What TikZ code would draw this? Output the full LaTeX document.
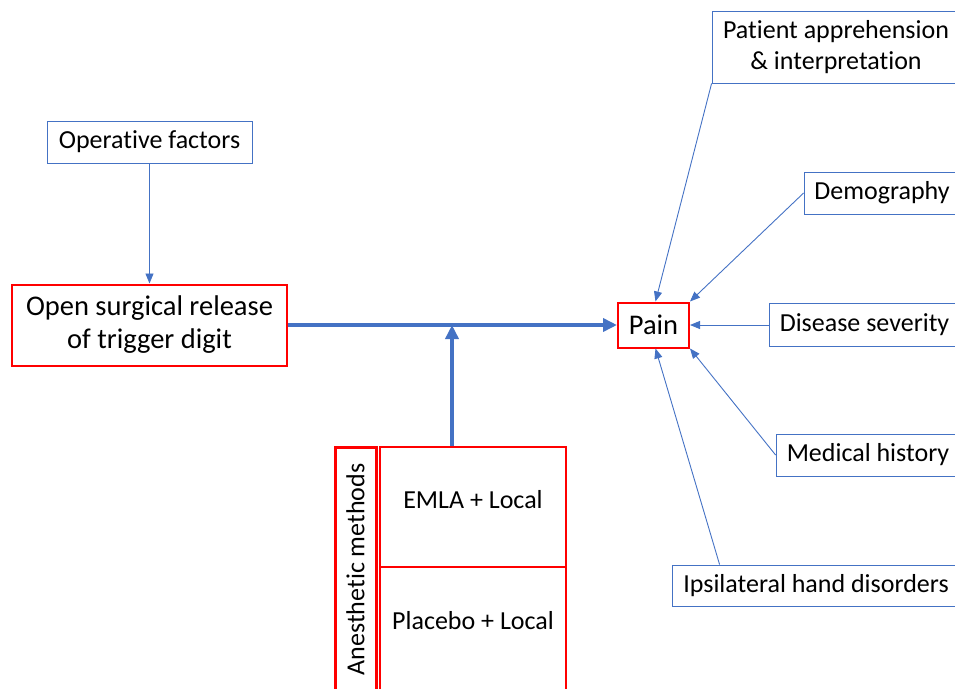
\documentclass[tikz,border=0pt]{standalone}
\usepackage{fontspec}
\setmainfont{Carlito}[Ligatures=NoCommon]
\usetikzlibrary{arrows.meta}
\definecolor{linkblue}{HTML}{4472C4}
\definecolor{boxred}{HTML}{FF0000}

\begin{document}
\begin{tikzpicture}[x=1pt, y=-1pt,
  factor/.style={draw=linkblue, line width=0.8pt, align=center, minimum height=42pt, font=\fontsize{26}{31}\selectfont},
  mainbox/.style={draw=boxred, line width=2pt, align=center},
  cell/.style={draw=boxred, line width=2pt, minimum width=186pt, minimum height=120pt, text depth=16pt, font=\fontsize{26}{31}\selectfont},
  thinarrow/.style={linkblue, line width=0.9pt, -{Triangle[length=10pt,width=8pt]}},
  thickarrow/.style={linkblue, line width=3.5pt, -{Triangle[length=14pt,width=13pt]}}]
  \useasboundingbox (0,0) rectangle (955,688);
  \clip (0,0) rectangle (955,688);
  % exposure and outcome
  \node[factor, minimum width=205pt] (oper) at (149.5,142) {Operative factors};
  \node[mainbox, minimum width=275pt, minimum height=81pt, font=\fontsize{28.5}{33}\selectfont] (release) at (149.5,325) {Open surgical release\\of trigger digit};
  \node[mainbox, minimum width=71pt, minimum height=45pt, font=\fontsize{28.5}{33}\selectfont] (pain) at (653.5,325) {Pain};
  % confounders
  \node[factor, minimum width=248pt, minimum height=72pt] (apprehension) at (836,47) {Patient apprehension\\\& interpretation};
  \node[factor, minimum width=156pt] (demography) at (882,193) {Demography};
  \node[factor, minimum width=191pt, minimum height=43pt] (severity) at (864.5,325) {Disease severity};
  \node[factor, minimum width=184pt] (history) at (868,455) {Medical history};
  \node[factor, minimum width=288pt, minimum height=41pt] (ipsilateral) at (816,585.5) {Ipsilateral hand disorders};
  % effect modifier
  \node[draw=boxred, line width=3pt, rotate=90, minimum width=245pt, minimum height=41pt, font=\fontsize{26}{31}\selectfont] (methods) at (355.5,569.5) {Anesthetic methods};
  \node[cell] (emla) at (473,507) {EMLA + Local};
  \node[cell, minimum height=140pt, text depth=34pt] (placebo) at (473,637) {Placebo + Local};
  \coordinate (junc) at (452,325);

  \draw[thinarrow] (oper) -- (release);
  \draw[thickarrow] (release) -- (pain);
  \draw[thickarrow] (junc |- emla.north) -- (junc);
  \draw[thinarrow] (apprehension.south west) -- ([xshift=2pt]pain.north);
  \draw[thinarrow] (demography.west) -- (pain.north east);
  \draw[thinarrow] (severity) -- (pain);
  \draw[thinarrow] (history.west) -- (pain.south east);
  \draw[thinarrow] ([xshift=48pt]ipsilateral.north west) -- ([xshift=2pt]pain.south);
\end{tikzpicture}
\end{document}
